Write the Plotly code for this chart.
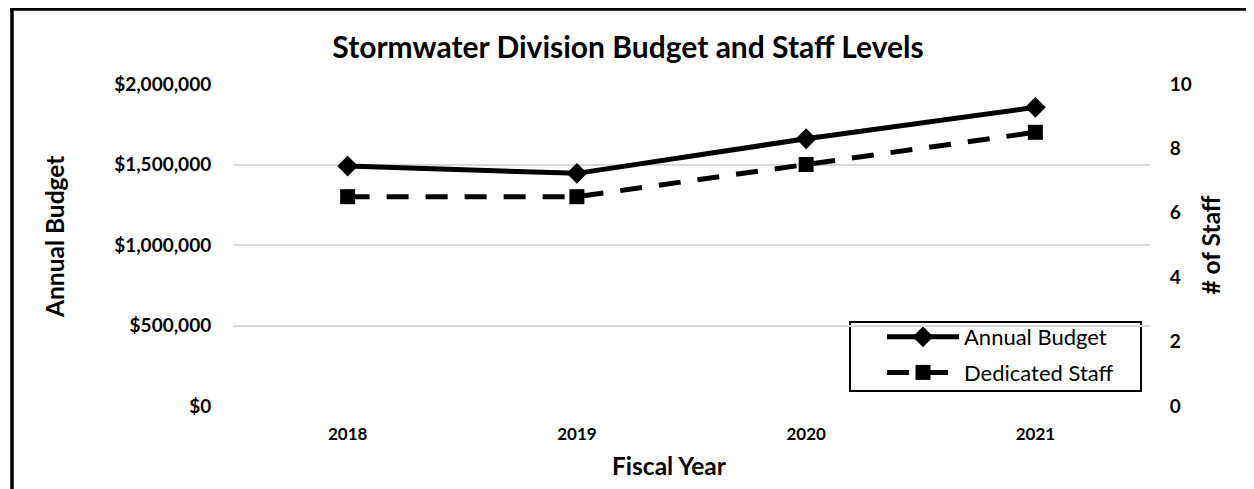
import plotly.graph_objects as go

years = ["2018", "2019", "2020", "2021"]
annual_budget = [1490000, 1445000, 1660000, 1855000]
dedicated_staff = [6.5, 6.5, 7.5, 8.5]
budget_ticks = [0, 500000, 1000000, 1500000, 2000000]
budget_tick_labels = ["$0", "$500,000", "$1,000,000", "$1,500,000", "$2,000,000"]
staff_ticks = [0, 2, 4, 6, 8, 10]

FONT = "Lato"
OFF = 8  # page body margin

W, H = 1254 - OFF, 489 - OFF
# plot area in page coordinates
PL, PR, PT, PB = 233, 1150, 84, 406
L, R, T, B = PL - OFF, W - (PR - OFF), PT - OFF, H - (PB - OFF)
pw, ph = W - L - R, H - T - B

def px(x):  # page x -> paper
    return (x - OFF - L) / pw

def py(y):  # page y -> paper
    return (H - B - (y - OFF)) / ph

fig = go.Figure()
fig.add_trace(go.Scatter(
    x=years, y=annual_budget, name="Annual Budget", mode="lines+markers",
    legendgroup="a",
    line=dict(color="black", width=5),
    marker=dict(symbol="diamond", size=16, color="black"),
    yaxis="y"))
fig.add_trace(go.Scatter(
    x=years, y=dedicated_staff, name="Dedicated Staff", mode="lines+markers",
    legendgroup="b",
    line=dict(color="black", width=5, dash="22px,17px"),
    marker=dict(symbol="square", size=15, color="black"),
    yaxis="y2"))

fig.update_layout(
    width=W, height=H,
    margin=dict(l=L, r=R, t=T, b=B, pad=0),
    paper_bgcolor="white", plot_bgcolor="white",
    font=dict(family=FONT, color="black"),
    modebar=dict(bgcolor="rgba(0,0,0,0)", color="rgba(0,0,0,0)",
                 activecolor="rgba(0,0,0,0)"),
    title=dict(text="<b>Stormwater Division Budget and Staff Levels</b>",
               x=(628 - OFF) / W, xanchor="center", y=1 - (47 - OFF) / H, yanchor="middle",
               font=dict(size=30, family=FONT, color="black")),
    xaxis=dict(type="category", range=[-0.5, 3.5], showgrid=False,
               showline=False, zeroline=False,
               tickfont=dict(size=17, family=FONT, color="black", weight="bold"),
               ticks="outside", ticklen=13, tickcolor="rgba(0,0,0,0)"),
    yaxis=dict(range=[0, 2000000], tickvals=budget_ticks, ticktext=budget_tick_labels,
               showgrid=True, gridcolor="#d9d9d9", gridwidth=1.5,
               zeroline=False, showline=False,
               tickfont=dict(size=19, family=FONT, color="black", weight="bold"),
               ticks="outside", ticklen=17, tickcolor="rgba(0,0,0,0)"),
    yaxis2=dict(range=[0, 10], tickvals=staff_ticks, overlaying="y", side="right",
                showgrid=False, zeroline=False, showline=False,
                tickfont=dict(size=19, family=FONT, color="black", weight="bold"),
                ticks="outside", ticklen=15, tickcolor="rgba(0,0,0,0)",
                title=dict(text="<b># of Staff</b>", standoff=12,
                           font=dict(size=24.5, family=FONT, color="black"))),
    legend=dict(x=px(882), y=py(316), xanchor="left", yanchor="top",
                bgcolor="rgba(0,0,0,0)", borderwidth=0,
                font=dict(size=22, family=FONT, color="black"),
                itemwidth=72, traceorder="grouped", tracegroupgap=4),
    showlegend=True,
)

fig.add_annotation(text="<b>Fiscal Year</b>", xref="paper", yref="paper",
                   x=px(669), y=py(465), xanchor="center", yanchor="middle",
                   showarrow=False, font=dict(size=24.5, family=FONT, color="black"))
fig.add_annotation(text="<b>Annual Budget</b>", xref="paper", yref="paper",
                   x=px(55), y=py(237), xanchor="center", yanchor="middle",
                   textangle=-90, showarrow=False,
                   font=dict(size=24.5, family=FONT, color="black"))

shapes = [
    dict(type="rect", xref="paper", yref="paper",
         x0=px(850), x1=px(1141), y0=py(391), y1=py(322),
         line=dict(color="black", width=2), fillcolor="rgba(0,0,0,0)", layer="below"),
    dict(type="line", xref="paper", yref="paper",
         x0=px(12), x1=px(12), y0=py(500), y1=py(7),
         line=dict(color="black", width=3.5)),
    dict(type="line", xref="paper", yref="paper",
         x0=px(10), x1=px(1254), y0=py(9), y1=py(9),
         line=dict(color="black", width=3.5)),
]
fig.update_layout(shapes=shapes)

fig.write_html("out.html")
